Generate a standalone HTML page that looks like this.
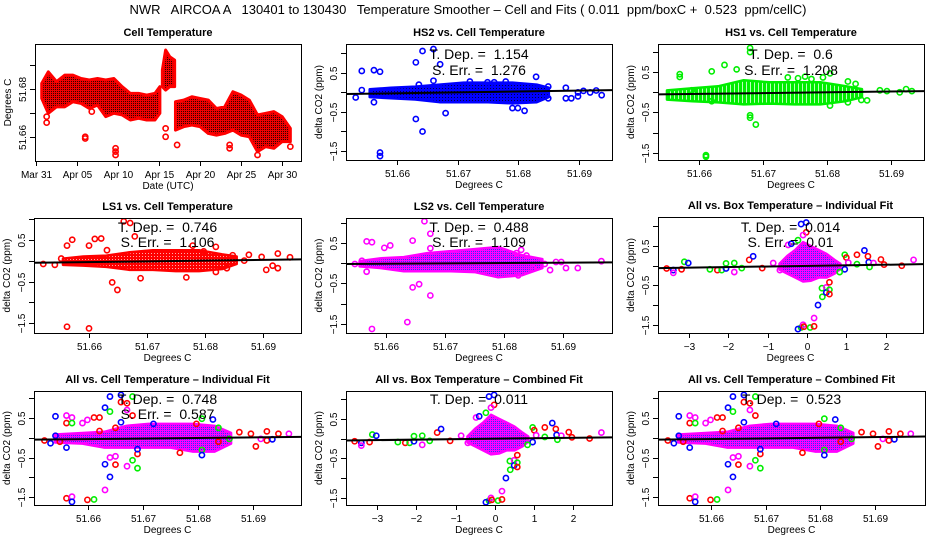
<!DOCTYPE html>
<html><head><meta charset="utf-8"><style>
html,body{margin:0;padding:0;background:#fff;}
svg{display:block;font-family:"Liberation Sans",sans-serif;}
</style></head><body>
<svg id="chart" width="936" height="540" viewBox="0 0 936 540">
<defs>
<pattern id="pat-red" width="2" height="2" patternUnits="userSpaceOnUse"><rect width="2" height="2" fill="#ee0000"/><rect x="1" y="1" width="1" height="1" fill="#330000"/></pattern>
<pattern id="pat-redw" width="3" height="3" patternUnits="userSpaceOnUse"><rect width="3" height="3" fill="#ff0000"/><rect x="1" y="1" width="1" height="1" fill="#ffaaaa"/></pattern>
<pattern id="pat-blue" width="3" height="3" patternUnits="userSpaceOnUse"><rect width="3" height="3" fill="#0000ff"/><rect x="1" y="1" width="1" height="1" fill="#000044"/></pattern>
<pattern id="pat-green" width="4" height="4" patternUnits="userSpaceOnUse"><rect width="4" height="4" fill="#00ee00"/><rect x="2" y="0" width="1" height="4" fill="#bbffbb"/></pattern>
<pattern id="pat-mag" width="2" height="2" patternUnits="userSpaceOnUse"><rect width="2" height="2" fill="#ff00ff"/><rect x="1" y="1" width="1" height="1" fill="#3030ff"/></pattern>
</defs>
<text x="468" y="14" text-anchor="middle" font-size="13" style="white-space:pre">NWR   AIRCOA A   130401 to 130430   Temperature Smoother – Cell and Fits ( 0.011  ppm/boxC +  0.523  ppm/cellC)</text>
</svg>
<script>
// ---------- Panel 1: cell temperature time series (days since Mar 31) ----------
const tsDays  = [0.7,1.5,2.5,3.5,4.5,5.5,6.5,7.5,8.5,9.5,10.5,11.5,12.5,13.5,14.5,15.1,null,15.4,15.8,16.3,16.9,null,17.0,18,19,20,21,22,23,24,25,26,27,28,29,30,31];
const tsUpper = [51.6824,51.6872,51.6831,51.6858,51.6858,51.6844,51.6838,51.6844,51.6838,51.6844,51.6810,51.6782,51.6782,51.6775,51.6782,51.6810,null,51.6879,51.6963,51.6935,51.6921,null,51.6747,51.6754,51.6768,51.6761,51.6754,51.6719,51.6726,51.6789,51.6775,51.6754,51.6692,51.6699,51.6706,51.6685,51.6636];
const tsLower = [51.6761,51.6699,51.6726,51.6726,51.6747,51.6740,51.6719,51.6733,51.6685,51.6699,51.6692,51.6671,51.6678,51.6671,51.6671,51.6699,null,51.6810,51.6796,51.6810,51.6810,null,51.6629,51.6643,51.6650,51.6643,51.6615,51.6608,51.6615,51.6629,51.6608,51.6601,51.6539,51.6560,51.6553,51.6581,51.6581];
const tsOutDays = [1.3,1.3,6.0,6.0,6.8,9.7,9.7,9.7,15.8,15.8,17.2,23.6,23.6,27.0,31.0];
const tsOutVals = [51.666,51.6685,51.6594,51.6601,51.6706,51.6553,51.6525,51.6539,51.6636,51.6601,51.6567,51.6567,51.6553,51.6525,51.656];
const dateTickDays = [0,5,10,15,20,25,30];
const dateTickLabels = ["Mar 31","Apr 05","Apr 10","Apr 15","Apr 20","Apr 25","Apr 30"];
const cellTempTicks = [51.66,51.67,51.68,51.69];
const cellTempTickLabels = ["51.66","","51.68",""];
const cellXTickLabels = ["51.66","51.67","51.68","51.69"];
const deltaTicks = [-1.5,-1,-0.5,0,0.5,1];
const deltaTickLabels = ["\u22121.5","","\u22120.5","","0.5",""];
const boxTicks = [-3,-2,-1,0,1,2];
const boxTickLabels = ["\u22123","\u22122","\u22121","0","1","2"];

// ---------- HS2 ----------
const hs2X = [51.6532,51.6542,51.6542,51.6562,51.6572,51.6562,51.6572,51.6572,51.6631,51.6642,51.666,51.6671,51.6631,51.6642,51.668,51.666,51.6636,51.672,51.6749,51.676,51.6779,51.679,51.6799,51.681,51.6829,51.6849,51.6849,51.6878,51.6878,51.6887,51.6898,51.6898,51.6907,51.6918,51.6928,51.6937];
const hs2Y = [-0.13,0.55,0.06,0.57,0.53,-0.25,-1.54,-1.63,0.77,1.06,1.11,0.72,-0.68,-1.0,-0.53,0.30,0.20,0.28,0.26,0.26,0.28,-0.4,-0.4,-0.47,0.4,0.15,-0.15,0.12,-0.15,-0.15,0.0,-0.1,0.04,0.0,0.05,-0.07];
const hs2BlobX = [51.6555,51.659,51.663,51.667,51.671,51.675,51.679,51.683,51.685];
const hs2BlobUp = [0.08,0.12,0.15,0.2,0.25,0.25,0.25,0.2,0.12];
const hs2BlobLo = [-0.12,-0.15,-0.18,-0.25,-0.25,-0.25,-0.28,-0.25,-0.12];
const hs2Fit = [-0.04,0.06];
// ---------- HS1 ----------
const hs1X = [51.657,51.657,51.662,51.664,51.6659,51.668,51.668,51.668,51.668,51.6689,51.6611,51.6611,51.662,51.6739,51.6755,51.6766,51.6776,51.6794,51.6805,51.6805,51.6833,51.6845,51.6833,51.6854,51.6863,51.6883,51.6894,51.6914,51.6924,51.6933,51.6589];
const hs1Y = [0.45,0.38,0.52,0.68,0.57,1.1,1.0,-0.57,-0.63,-0.8,-1.56,-1.6,-0.22,0.37,0.35,0.39,0.33,0.37,0.47,-0.33,0.27,0.21,-0.25,-0.19,-0.2,0.05,0.03,0.0,0.08,0.03,0.05];
const hs1BlobX = [51.655,51.659,51.663,51.667,51.671,51.675,51.679,51.683,51.6855];
const hs1BlobUp = [0.05,0.1,0.15,0.3,0.25,0.25,0.25,0.15,0.08];
const hs1BlobLo = [-0.18,-0.22,-0.25,-0.3,-0.28,-0.3,-0.3,-0.22,-0.12];
const hs1Fit = [-0.05,0.03];
// ---------- LS1 ----------
const ls1X = [51.6521,51.6541,51.6552,51.6562,51.6571,51.6562,51.66,51.66,51.661,51.6621,51.6631,51.664,51.6649,51.666,51.6671,51.6679,51.6689,51.6768,51.6779,51.6798,51.6819,51.6819,51.6848,51.6838,51.6876,51.6898,51.6906,51.6917,51.6926,51.6926,51.6947,51.6868];
const ls1Y = [-0.08,-0.1,0.05,0.36,0.5,-1.58,-1.62,0.36,0.52,0.53,0.25,-0.52,-0.7,0.94,0.9,0.58,-0.42,-0.4,0.36,0.22,0.33,-0.27,0.13,-0.18,0.14,0.09,-0.22,-0.12,0.17,-0.18,0.08,0.0];
const ls1BlobX = [51.6555,51.659,51.663,51.667,51.671,51.675,51.679,51.683,51.6855];
const ls1BlobUp = [0.05,0.1,0.12,0.2,0.25,0.25,0.25,0.15,0.1];
const ls1BlobLo = [-0.1,-0.12,-0.15,-0.22,-0.22,-0.25,-0.25,-0.2,-0.08];
const ls1Fit = [-0.05,0.03];
// ---------- LS2 ----------
const ls2X = [51.6547,51.6559,51.6567,51.6576,51.6567,51.6576,51.6597,51.6607,51.6636,51.6645,51.6645,51.6656,51.6665,51.6675,51.6675,51.6675,51.6824,51.6829,51.6838,51.6849,51.6869,51.6878,51.6888,51.6897,51.6905,51.6925,51.6965,51.6821];
const ls2Y = [-0.02,0.06,0.54,0.52,-0.21,-1.63,0.38,0.44,-1.46,0.56,-0.6,-0.52,1.04,0.73,-0.8,0.37,-0.3,0.33,0.19,-0.13,-0.02,-0.17,0.03,0.03,-0.12,-0.12,0.05,0.25];
const ls2BlobX = [51.6555,51.659,51.663,51.667,51.671,51.675,51.679,51.683,51.6865];
const ls2BlobUp = [0.05,0.12,0.15,0.25,0.3,0.35,0.4,0.2,0.1];
const ls2BlobLo = [-0.08,-0.12,-0.2,-0.2,-0.2,-0.22,-0.35,-0.3,-0.12];
const ls2Fit = [-0.02,0.02];
// ---------- All vs Box temperature (colors: r g b m) ----------
const boxX = [-3.57,-3.40,-3.40,-3.19,-3.12,-3.02,-2.47,-2.28,-2.17,-2.06,-2.06,-1.85,-1.85,-1.66,-1.47,-1.37,-1.14,-0.86,-0.69,-0.48,-0.40,-0.23,-0.15,-0.02,-0.02,-0.10,-0.15,-0.23,-0.10,-0.08,0.08,0.18,0.18,0.28,0.39,0.38,0.49,0.49,0.57,0.57,0.57,0.96,1.0,1.05,0.96,0.83,1.27,1.27,1.46,1.55,1.57,1.69,1.59,1.88,1.96,2.41,2.71];
const boxY = [-0.07,-0.11,-0.18,-0.09,0.1,0.07,-0.09,-0.11,-0.11,-0.07,0.06,0.07,-0.16,-0.06,0.15,0.24,-0.06,0.07,-0.11,0.53,0.56,0.65,1.06,1.1,0.85,0.78,-1.57,-1.61,-1.5,-1.55,-1.57,-1.54,-1.33,-1.0,-0.79,-0.57,-0.55,-0.68,-0.61,-0.72,-0.42,0.28,0.21,0.08,-0.09,-0.16,0.28,0.04,0.39,0.24,0.09,0.07,-0.03,0.16,0.03,0.0,0.15];
const boxC = ["r","b","m","r","g","b","g","r","g","b","g","g","m","g","r","b","r","m","m","m","b","g","b","b","r","m","g","b","m","r","g","r","m","b","g","g","m","b","g","r","r","g","r","m","b","g","r","g","b","r","b","m","g","r","r","r","m"];
const boxBlobX = [-0.7,-0.5,-0.3,-0.1,0.1,0.3,0.5,0.7,0.85];
const boxBlobUp = [0.05,0.25,0.4,0.6,0.5,0.4,0.3,0.15,0.05];
const boxBlobLo = [-0.1,-0.2,-0.3,-0.4,-0.38,-0.3,-0.3,-0.2,-0.08];
const boxIndFit = [-0.06,0.04];
const boxCombFit = [-0.05,0.03];
// ---------- All vs Cell temperature ----------
const allX = [51.6521,51.6532,51.6541,51.6541,51.6549,51.6561,51.6561,51.6561,51.6561,51.6571,51.6571,51.6571,51.6571,51.659,51.6599,51.6599,51.6611,51.6611,51.6621,51.6621,51.6631,51.6631,51.6631,51.664,51.664,51.664,51.664,51.665,51.665,51.665,51.666,51.666,51.666,51.6671,51.6671,51.6671,51.6681,51.6681,51.6681,51.669,51.669,51.669,51.6719,51.6767,51.6797,51.6807,51.6807,51.6807,51.6827,51.6837,51.6837,51.6875,51.6896,51.6905,51.6914,51.6925,51.6925,51.6935,51.6946,51.6965,51.6857];
const allY = [-0.07,-0.14,0.54,0.05,-0.1,0.37,0.56,-0.25,-1.53,0.51,0.37,-1.49,-1.62,0.37,0.45,-1.57,-1.56,0.51,0.51,0.17,0.76,-0.67,-1.32,1.04,0.66,-0.5,-0.99,-0.68,-0.47,0.25,1.08,0.9,0.39,0.87,0.7,-0.72,1.04,-0.57,0.56,-0.77,-0.41,-0.29,0.35,-0.38,0.35,0.48,-0.31,-0.44,0.46,0.25,-0.1,0.14,0.1,-0.22,-0.03,0.16,-0.07,-0.04,0.1,0.1,-0.03];
const allC = ["r","b","b","b","r","r","m","b","r","m","g","m","b","m","m","r","g","r","r","r","b","b","m","b","g","m","b","r","m","r","b","r","b","r","m","m","g","g","r","g","r","b","b","r","r","g","g","b","b","g","r","r","r","r","m","r","r","b","r","m","g"];
const allBlobX = [51.654,51.659,51.663,51.667,51.671,51.675,51.679,51.683,51.686];
const allBlobUp = [0.08,0.12,0.15,0.3,0.35,0.35,0.35,0.3,0.12];
const allBlobLo = [-0.12,-0.15,-0.25,-0.25,-0.25,-0.25,-0.35,-0.35,-0.15];
const allIndFit = [-0.05,0.02];
const allCombFit = [-0.05,0.03];

const NS = "http://www.w3.org/2000/svg";
const svg = document.getElementById("chart");
const COL = {r:"#ff0000", g:"#00ee00", b:"#0000ff", m:"#ff00ff"};

function mk(tag, attrs, parent) {
  const e = document.createElementNS(NS, tag);
  for (const k in attrs) e.setAttribute(k, attrs[k]);
  (parent || svg).appendChild(e);
  return e;
}
function scale(d0, d1, r0, r1) { return v => r0 + (v - d0) * (r1 - r0) / (d1 - d0); }

function panel(id, title, box, xd, yd, xTicks, xLabels, yTicks, yLabels, xTitle, yTitle) {
  const g = mk("g", {});
  
  
  const [x0, y0, x1, y1] = box;
  const sx = scale(xd[0], xd[1], x0, x1);
  const sy = scale(yd[0], yd[1], y1, y0);
  const t = mk("text", {x: (x0 + x1) / 2, y: y0 - 8, "text-anchor": "middle", "font-size": 11, "font-weight": "bold"}, g);
  t.textContent = title;
  
  
  const plot = mk("g", {}, g);
  
  
  const clipId = id + "-clip";
  const cp = mk("clipPath", {id: clipId}, g);
  mk("rect", {x: x0, y: y0, width: x1 - x0, height: y1 - y0}, cp);
  plot.setAttribute("clip-path", "url(#" + clipId + ")");
  const frame = mk("rect", {x: x0 + 0.5, y: y0 + 0.5, width: x1 - x0, height: y1 - y0, fill: "none", stroke: "#000", "stroke-width": 1}, g);
  
  
  const xa = mk("g", {}, g);
  
  
  xTicks.forEach((v, i) => {
    const px = Math.round(sx(v)) + 0.5;
    mk("line", {x1: px, x2: px, y1: y1, y2: y1 + 5, stroke: "#000"}, xa);
    if (xLabels[i]) {
      const tl = mk("text", {x: px, y: y1 + 17, "text-anchor": "middle", "font-size": 10}, xa);
      tl.textContent = xLabels[i];
      
      
    }
  });
  const xt = mk("text", {x: (x0 + x1) / 2, y: y1 + 28, "text-anchor": "middle", "font-size": 10}, xa);
  xt.textContent = xTitle;
  
  
  const ya = mk("g", {}, g);
  
  
  yTicks.forEach((v, i) => {
    const py = Math.round(sy(v)) + 0.5;
    if (py < y0 - 1 || py > y1 + 1) return;
    mk("line", {x1: x0 - 5, x2: x0, y1: py, y2: py, stroke: "#000"}, ya);
    if (yLabels[i]) {
      const tl = mk("text", {x: x0 - 9, y: py, "text-anchor": "middle", "font-size": 10, transform: "rotate(-90 " + (x0 - 9) + " " + py + ")"}, ya);
      tl.textContent = yLabels[i];
      
      
    }
  });
  const yc = (y0 + y1) / 2;
  const yt = mk("text", {x: x0 - 24, y: yc, "text-anchor": "middle", "font-size": 10, transform: "rotate(-90 " + (x0 - 24) + " " + yc + ")"}, ya);
  yt.textContent = yTitle;
  
  
  return {g, plot, sx, sy, box};
}

function blob(p, xs, up, lo, pat, stroke) {
  let pts = xs.map((x, i) => p.sx(x) + "," + p.sy(up[i]));
  for (let i = xs.length - 1; i >= 0; i--) pts.push(p.sx(xs[i]) + "," + p.sy(lo[i]));
  const poly = mk("polygon", {points: pts.join(" "), fill: "url(#" + pat + ")", stroke: stroke, "stroke-width": 2.5, "stroke-linejoin": "round"}, p.plot);
  
  
}
function points(p, xs, ys, colors, single) {
  xs.forEach((x, i) => {
    const c = single ? single : COL[colors[i]];
    const pt = mk("circle", {cx: p.sx(x), cy: p.sy(ys[i]), r: 2.6, fill: "none", stroke: c, "stroke-width": 1.6}, p.plot);
    
    
  });
}
function fit(p, xd, ends) {
  const ln = mk("line", {x1: p.sx(xd[0]), x2: p.sx(xd[1]), y1: p.sy(ends[0]), y2: p.sy(ends[1]), stroke: "#000", "stroke-width": 2}, p.plot);
  
  
}
function stats(p, lines, ys) {
  lines.forEach((s, i) => {
    const t = mk("text", {x: (p.box[0] + p.box[2]) / 2, y: ys[i], "text-anchor": "middle", "font-size": 14, style: "white-space:pre"}, p.g);
    t.textContent = s;
    
    
  });
}

// Panel 1
const p1 = panel("cell-temperature-panel", "Cell Temperature", [35, 44, 301, 161], [-0.12, 32.3], [51.65, 51.6988], dateTickDays, dateTickLabels, cellTempTicks, cellTempTickLabels, "Date (UTC)", "Degrees C");
{
  let seg = [];
  const flush = () => {
    if (!seg.length) return;
    let pts = seg.map(i => p1.sx(tsDays[i]) + "," + p1.sy(tsUpper[i]));
    for (let k = seg.length - 1; k >= 0; k--) pts.push(p1.sx(tsDays[seg[k]]) + "," + p1.sy(tsLower[seg[k]]));
    const poly = mk("polygon", {points: pts.join(" "), fill: "url(#pat-red)", stroke: "#ff0000", "stroke-width": 3, "stroke-linejoin": "round"}, p1.plot);
    
    
    seg = [];
  };
  tsDays.forEach((d, i) => { if (d === null) flush(); else seg.push(i); });
  flush();
  points(p1, tsOutDays, tsOutVals, null, "#ff0000");
}

const rowY = [[44, 160], [218, 333], [391, 505]];
const colX = [[35, 301], [346, 612], [658, 924]];
const statY = [[59, 75], [232, 247], [404, 419]];

const p2 = panel("hs2-panel", "HS2 vs. Cell Temperature", [colX[1][0], rowY[0][0], colX[1][1], rowY[0][1]], [51.6516, 51.6954], [-1.73, 1.24], cellTempTicks, cellXTickLabels, deltaTicks, deltaTickLabels, "Degrees C", "delta CO2 (ppm)");
blob(p2, hs2BlobX, hs2BlobUp, hs2BlobLo, "pat-blue", "#0000ff");
points(p2, hs2X, hs2Y, null, "#0000ff");
fit(p2, [51.6516, 51.6954], hs2Fit);
stats(p2, ["T. Dep. =  1.154", "S. Err. =  1.276"], statY[0]);

const p3 = panel("hs1-panel", "HS1 vs. Cell Temperature", [colX[2][0], rowY[0][0], colX[2][1], rowY[0][1]], [51.6536, 51.6952], [-1.68, 1.2], cellTempTicks, cellXTickLabels, deltaTicks, deltaTickLabels, "Degrees C", "delta CO2 (ppm)");
blob(p3, hs1BlobX, hs1BlobUp, hs1BlobLo, "pat-green", "#00ee00");
points(p3, hs1X, hs1Y, null, "#00ee00");
fit(p3, [51.6536, 51.6952], hs1Fit);
stats(p3, ["T. Dep. =  0.6", "S. Err. =  1.208"], statY[0]);

const p4 = panel("ls1-panel", "LS1 vs. Cell Temperature", [colX[0][0] - 1, rowY[1][0], colX[0][1], rowY[1][1]], [51.6505, 51.6966], [-1.73, 1.02], cellTempTicks, cellXTickLabels, deltaTicks, deltaTickLabels, "Degrees C", "delta CO2 (ppm)");
blob(p4, ls1BlobX, ls1BlobUp, ls1BlobLo, "pat-redw", "#ff0000");
points(p4, ls1X, ls1Y, null, "#ff0000");
fit(p4, [51.6505, 51.6966], ls1Fit);
stats(p4, ["T. Dep. =  0.746", "S. Err. =  1.106"], statY[1]);

const p5 = panel("ls2-panel", "LS2 vs. Cell Temperature", [colX[1][0], rowY[1][0], colX[1][1], rowY[1][1]], [51.6532, 51.6983], [-1.73, 1.12], cellTempTicks, cellXTickLabels, deltaTicks, deltaTickLabels, "Degrees C", "delta CO2 (ppm)");
blob(p5, ls2BlobX, ls2BlobUp, ls2BlobLo, "pat-mag", "#ff00ff");
points(p5, ls2X, ls2Y, null, "#ff00ff");
fit(p5, [51.6532, 51.6983], ls2Fit);
stats(p5, ["T. Dep. =  0.488", "S. Err. =  1.109"], statY[1]);

const p6 = panel("all-box-individual-panel", "All vs. Box Temperature \u2013 Individual Fit", [colX[2][0], rowY[1][0] - 1, colX[2][1] - 1, rowY[1][1]], [-3.79, 2.95], [-1.71, 1.24], boxTicks, boxTickLabels, deltaTicks, deltaTickLabels, "Degrees C", "delta CO2 (ppm)");
blob(p6, boxBlobX, boxBlobUp, boxBlobLo, "pat-mag", "#ff00ff");
points(p6, boxX, boxY, boxC);
fit(p6, [-3.79, 2.95], boxIndFit);
stats(p6, ["T. Dep. =  0.014", "S. Err. =  0.01"], statY[1]);

const p7 = panel("all-cell-individual-panel", "All vs. Cell Temperature \u2013 Individual Fit", [colX[0][0] - 1, rowY[2][0], colX[0][1], rowY[2][1]], [51.6502, 51.6987], [-1.70, 1.18], cellTempTicks, cellXTickLabels, deltaTicks, deltaTickLabels, "Degrees C", "delta CO2 (ppm)");
blob(p7, allBlobX, allBlobUp, allBlobLo, "pat-mag", "#ff00ff");
points(p7, allX, allY, allC);
fit(p7, [51.6502, 51.6987], allIndFit);
stats(p7, ["T. Dep. =  0.748", "S. Err. =  0.587"], statY[2]);

const p8 = panel("all-box-combined-panel", "All vs. Box Temperature \u2013 Combined Fit", [colX[1][0], rowY[2][0], colX[1][1], rowY[2][1]], [-3.79, 2.98], [-1.68, 1.20], boxTicks, boxTickLabels, deltaTicks, deltaTickLabels, "Degrees C", "delta CO2 (ppm)");
blob(p8, boxBlobX, boxBlobUp, boxBlobLo, "pat-mag", "#ff00ff");
points(p8, boxX, boxY, boxC);
fit(p8, [-3.79, 2.98], boxCombFit);
stats(p8, ["T. Dep. =  0.011"], statY[2]);

const p9 = panel("all-cell-combined-panel", "All vs. Cell Temperature \u2013 Combined Fit", [colX[2][0], rowY[2][0], colX[2][1] + 1, rowY[2][1]], [51.6503, 51.6991], [-1.70, 1.18], cellTempTicks, cellXTickLabels, deltaTicks, deltaTickLabels, "Degrees C", "delta CO2 (ppm)");
blob(p9, allBlobX, allBlobUp, allBlobLo, "pat-mag", "#ff00ff");
points(p9, allX, allY, allC);
fit(p9, [51.6503, 51.6991], allCombFit);
stats(p9, ["T. Dep. =  0.523"], statY[2]);
</script>
</body></html>
